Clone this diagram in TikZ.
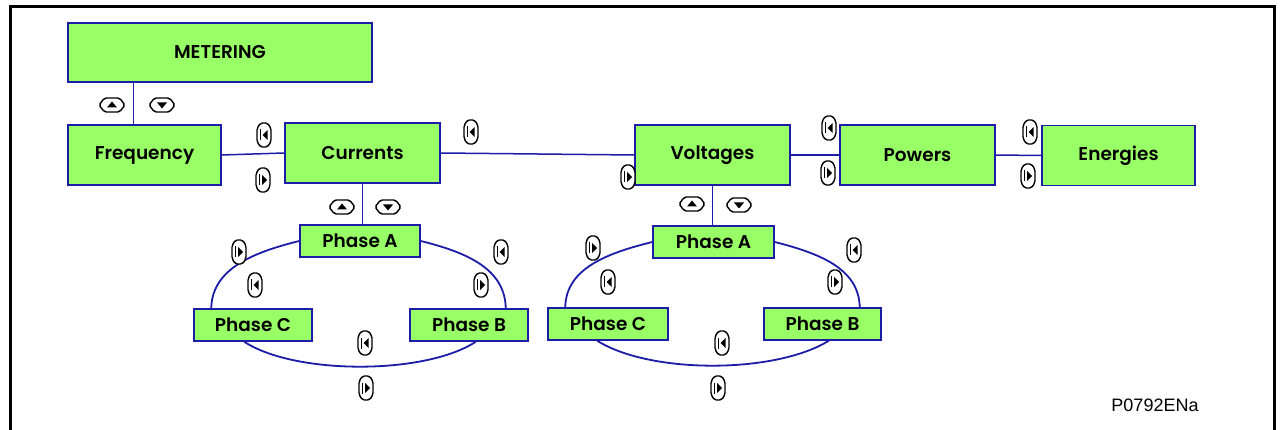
\documentclass[tikz,border=0pt]{standalone}
\usepackage{fontspec}
\setmainfont{Poppins}
\newfontfamily\boxfont{Poppins SemiBold}
\newfontfamily\codefont{Liberation Sans}
\definecolor{boxgreen}{HTML}{99FF66}
\definecolor{boxblue}{HTML}{1C1CA8}
\begin{document}
\begin{tikzpicture}[x=1pt,y=-1pt,
  box/.style={draw=boxblue, fill=boxgreen, line width=1.5pt, inner sep=0pt,
    font=\boxfont\fontsize{18.5}{20}\selectfont},
  link/.style={draw=boxblue, line width=1.5pt},
  ring/.style={draw=boxblue, line width=1.8pt},
  keyicon/.style={draw=black, fill=white, line width=1.4pt, rounded corners=1.8pt},
  keyL/.pic={\path[keyicon] (-3.5,-12)--(3.5,-12)--(7,-6.5)--(7,6.5)--(3.5,12)--(-3.5,12)--(-7,6.5)--(-7,-6.5)--cycle;
     \draw[line width=1.2pt] (-3.5,-5.5)--(-3.5,5.5);
     \fill (3.5,-5)--(-1.5,0)--(3.5,5)--cycle;},
  keyR/.pic={\path[keyicon] (-3.5,-12)--(3.5,-12)--(7,-6.5)--(7,6.5)--(3.5,12)--(-3.5,12)--(-7,6.5)--(-7,-6.5)--cycle;
     \draw[line width=1.2pt] (-3.5,-5.5)--(-3.5,5.5);
     \fill (-1,-5)--(4,0)--(-1,5)--cycle;},
  keyU/.pic={\path[keyicon] (-13,0)--(-7.5,-7)--(7.5,-7)--(13,0)--(7.5,7)--(-7.5,7)--cycle;
     \fill (-5,2.5)--(0,-3.5)--(5,2.5)--cycle;},
  keyD/.pic={\path[keyicon] (-13,0)--(-7.5,-7)--(7.5,-7)--(13,0)--(7.5,7)--(-7.5,7)--cycle;
     \fill (-5,-2.5)--(0,3.5)--(5,-2.5)--cycle;}
]
\useasboundingbox (0,0) rectangle (1282,430);
% frame
\draw[line width=3pt] (10,432)--(10,7)--(1274,7)--(1274,432);

% main boxes
\node[box, minimum width=304pt, minimum height=59pt] (met) at (220,52.5) {METERING};
\node[box, minimum width=153pt, minimum height=60pt] (freq) at (144.5,155) {Frequency};
\node[box, minimum width=155pt, minimum height=60pt] (cur) at (362.5,153) {Currents};
\node[box, minimum width=155pt, minimum height=60pt] (vol) at (712.5,155) {Voltages};
\node[box, minimum width=155pt, minimum height=60pt] (pow) at (917.5,155) {Powers};
\node[box, minimum width=153pt, minimum height=60pt] (ene) at (1118.5,155.5) {Energies};

% phase boxes
\node[box, minimum width=120pt, minimum height=32pt] (paL) at (360,241) {Phase A};
\node[box, minimum width=118pt, minimum height=32pt] (pcL) at (253,325) {Phase C};
\node[box, minimum width=118pt, minimum height=32pt] (pbL) at (469,325) {Phase B};
\node[box, minimum width=121pt, minimum height=32pt] (paR) at (713.5,242) {Phase A};
\node[box, minimum width=120pt, minimum height=32pt] (pcR) at (608,324) {Phase C};
\node[box, minimum width=117pt, minimum height=32pt] (pbR) at (822.5,324) {Phase B};

% connectors
\draw[link] ([xshift=66pt]met.south west) -- ([xshift=66pt]freq.north west);
\draw[link] (freq.east) -- (cur.west);
\draw[link] (cur.east) -- (vol.west);
\draw[link] (vol.east) -- (pow.west);
\draw[link] (pow.east) -- (ene.west);
\draw[link] (cur.south) -- (cur.south |- paL.north);
\draw[link] (vol.south) -- (vol.south |- paR.north);

% left ring
\draw[ring] (paL.west) .. controls (255,252) and (212,268) .. ([xshift=18pt]pcL.north west);
\draw[ring] (paL.east) .. controls (465,252) and (505,268) .. ([xshift=-23pt]pbL.north east);
\draw[ring] ([xshift=51pt]pcL.south west) .. controls (295,375) and (425,375) .. ([xshift=-53pt]pbL.south east);
% right ring
\draw[ring] (paR.west) .. controls (608,253) and (566,268) .. ([xshift=18pt]pcR.north west);
\draw[ring] (paR.east) .. controls (818,253) and (859,268) .. ([xshift=-22pt]pbR.north east);
\draw[ring] ([xshift=50pt]pcR.south west) .. controls (650,374) and (775,374) .. ([xshift=-53pt]pbR.south east);

% key icons
\pic at (112,105) {keyU};
\pic at (162,105) {keyD};
\pic at (264,135) {keyL};
\pic at (263,180) {keyR};
\pic at (471,132) {keyL};
\pic at (628,177) {keyR};
\pic at (829,128) {keyL};
\pic at (828,173) {keyR};
\pic at (1030,132) {keyL};
\pic at (1028,176) {keyR};
\pic at (342,207) {keyU};
\pic at (388,207) {keyD};
\pic at (692,204) {keyU};
\pic at (739,205) {keyD};
\pic at (239,252) {keyR};
\pic at (255,285) {keyL};
\pic at (501,252) {keyL};
\pic at (481,285) {keyR};
\pic at (365,343) {keyL};
\pic at (366,388) {keyR};
\pic at (593,248) {keyR};
\pic at (608,282) {keyL};
\pic at (854,250) {keyL};
\pic at (835,282) {keyR};
\pic at (722,343) {keyL};
\pic at (718,388) {keyR};

\node[font=\codefont\fontsize{18}{20}\selectfont, inner sep=0pt] (code) at (1155,405) {P0792ENa};
\end{tikzpicture}
\end{document}
